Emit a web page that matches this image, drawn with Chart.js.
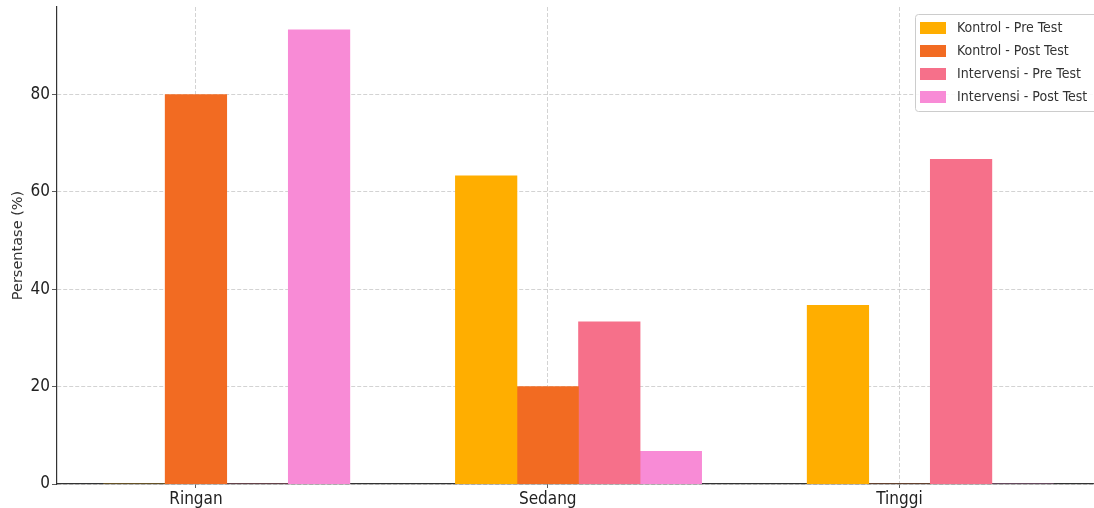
<!DOCTYPE html>
<html>
<head>
<meta charset="utf-8">
<script src="https://cdn.jsdelivr.net/npm/chart.js@4/dist/chart.umd.min.js"></script>
<style>
  html, body { margin: 0; padding: 0; background: #fff; }
  #grafik { display: block; }
</style>
</head>
<body>
<canvas id="grafik" width="1094" height="508"></canvas>
<script>
// kategori tingkat dan persentase tiap kelompok
var kategori = ['Ringan', 'Sedang', 'Tinggi'];
var kontrolPre = [0, 63.3, 36.7];
var kontrolPost = [80, 20, 0];
var intervensiPre = [0, 33.3, 66.7];
var intervensiPost = [93.3, 6.7, 0];
var yTicks = [0, 20, 40, 60, 80];

var lebarBar = 0.175; // lebar satu batang dalam satuan kategori
var fontTick = "'DejaVu Sans Condensed', 'Liberation Sans Narrow', 'DejaVu Sans', sans-serif";

// batang ke-i digeser dari posisi kategori (batang kedua tepat di tengah)
function buatSeri(nilai, urutan) {
    return nilai.map(function (v, i) {
        return { x: i + (urutan - 1) * lebarBar, y: v };
    });
}

var seri = [
    { label: 'Kontrol - Pre Test', data: kontrolPre, warna: '#FFAE00' },
    { label: 'Kontrol - Post Test', data: kontrolPost, warna: '#F26B22' },
    { label: 'Intervensi - Pre Test', data: intervensiPre, warna: '#F6708A' },
    { label: 'Intervensi - Post Test', data: intervensiPost, warna: '#F88BD6' }
];

// legenda kotak di pojok kanan atas, di dalam area grafik
var legendaKotak = {
    id: 'legendaKotak',
    afterDraw: function (chart) {
        var ctx = chart.ctx;
        var x = 915, y = 14, w = 190, h = 97;
        ctx.save();
        ctx.fillStyle = 'rgba(255,255,255,0.85)';
        ctx.strokeStyle = '#cccccc';
        ctx.lineWidth = 1;
        ctx.beginPath();
        ctx.roundRect(x + 0.5, y + 0.5, w, h, 3);
        ctx.fill();
        ctx.stroke();
        ctx.font = "14px " + fontTick;
        ctx.textBaseline = 'middle';
        chart.data.datasets.forEach(function (ds, i) {
            var cy = y + 14 + i * 23;
            ctx.fillStyle = ds.backgroundColor;
            ctx.fillRect(x + 5, cy - 6, 26, 12);
            ctx.fillStyle = '#333';
            ctx.fillText(ds.label, x + 42, cy);
        });
        ctx.restore();
    }
};

new Chart(document.getElementById('grafik'), {
    type: 'bar',
    data: {
        datasets: seri.map(function (s, i) {
            return {
                label: s.label,
                data: buatSeri(s.data, i),
                backgroundColor: s.warna,
                borderWidth: 0,
                grouped: false,
                barPercentage: 1,
                categoryPercentage: 1
            };
        })
    },
    options: {
        responsive: false,
        animation: false,
        layout: { padding: { top: 7, right: 1, left: 0, bottom: 0 } },
        plugins: {
            legend: { display: false },
            tooltip: { enabled: false }
        },
        scales: {
            x: {
                type: 'linear',
                min: -0.395,
                max: 2.55,
                offset: false,
                z: 1,
                afterBuildTicks: function (s) {
                    s.ticks = kategori.map(function (k, i) { return { value: i }; });
                },
                afterFit: function (s) { s.height = 24; },
                ticks: {
                    autoSkip: false,
                    maxRotation: 0,
                    padding: 1,
                    color: '#222',
                    font: { family: fontTick, size: 17 },
                    callback: function (v) { return kategori[v]; }
                },
                grid: {
                    offset: false,
                    color: '#c8c8c8',
                    lineWidth: 0.8,
                    tickColor: '#333',
                    tickLength: 4
                },
                border: { color: '#333', width: 1.2, dash: [4, 2] }
            },
            y: {
                min: 0,
                max: 98,
                z: 1,
                afterBuildTicks: function (s) {
                    s.ticks = yTicks.map(function (v) { return { value: v }; });
                },
                afterFit: function (s) {
                    s.width = 57;
                    s.paddingTop = 0;
                    s.paddingBottom = 0;
                },
                ticks: {
                    padding: 2,
                    color: '#222',
                    font: { family: fontTick, size: 17 }
                },
                grid: {
                    color: '#c8c8c8',
                    lineWidth: 0.8,
                    tickColor: '#333',
                    tickLength: 5
                },
                border: { color: '#333', width: 1.2, dash: [4, 2] },
                title: {
                    display: true,
                    text: 'Persentase (%)',
                    color: '#333',
                    padding: { top: 10, bottom: 4 },
                    font: { family: "'DejaVu Sans', sans-serif", size: 14.5 }
                }
            }
        }
    },
    plugins: [legendaKotak]
});
</script>
</body>
</html>
